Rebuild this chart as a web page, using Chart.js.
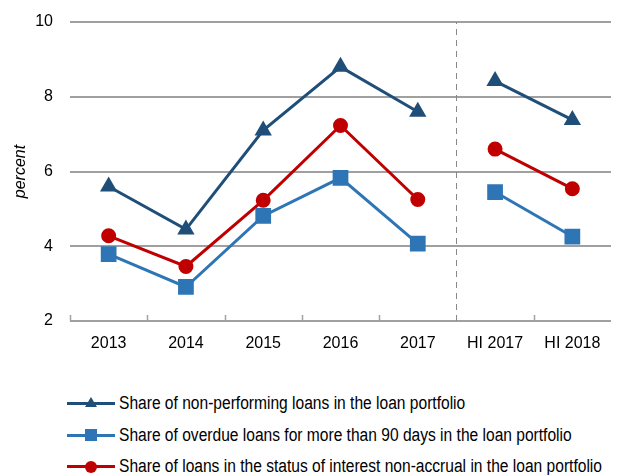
<!DOCTYPE html>
<html>
<head>
<meta charset="utf-8">
<script src="https://cdn.jsdelivr.net/npm/chart.js@4.4.0/dist/chart.umd.min.js"></script>
<style>
  body { margin: 0; background: #fff; width: 623px; height: 475px; overflow: hidden; position: relative; }
  #chart-box { position: absolute; left: 0; top: 0; width: 623px; height: 360px; }
  #legend { position: absolute; left: 67px; top: 388px; font-family: "Liberation Sans Narrow", "Arial Narrow", "Liberation Sans", sans-serif; font-size: 18px; color: #000; }
  .row { position: relative; height: 31.5px; line-height: 31.5px; white-space: nowrap; }
  .sample { position: absolute; left: 0; top: 14px; width: 48px; height: 3px; }
  .mark { position: absolute; }
  .txt { position: absolute; left: 52px; top: 0; transform: scaleX(0.865); transform-origin: 0 50%; }
</style>
</head>
<body>
<div id="chart-box"><canvas id="loansChart" width="623" height="360"></canvas></div>
<div id="legend"></div>
<script>
// categories and series values (percent)
const categories = ["2013", "2014", "2015", "2016", "2017", "HI 2017", "HI 2018"];
const nonPerforming = [5.6, 4.45, 7.1, 8.8, 7.6, 8.42, 7.38];
const overdue90 = [3.79, 2.91, 4.81, 5.83, 4.07, 5.45, 4.26];
const nonAccrual = [4.28, 3.46, 5.23, 7.23, 5.25, 6.6, 5.54];
const yTicks = [2, 4, 6, 8, 10];

const seriesNames = [
    "Share of non-performing loans in the loan portfolio",
    "Share of overdue loans for more than 90 days in the loan portfolio",
    "Share of loans in the status of interest non-accrual in the loan portfolio"
];
const colors = ["#1F4E79", "#2E75B6", "#C00000"];
const fontFamily = '"Liberation Sans Narrow", "Arial Narrow", "Liberation Sans", sans-serif';

// break the line between the annual and half-year parts
const breakAt = 4;
function segColor(color) {
    return ctx => ctx.p0DataIndex === breakAt ? "rgba(0,0,0,0)" : color;
}

// ticks on x axis pointing up, and dashed separator
const axisMarks = {
    id: "axisMarks",
    beforeDatasetsDraw(chart) {
        const x = chart.scales.x;
        const y = chart.scales.y;
        const step = x.getPixelForValue(1) - x.getPixelForValue(0);
        const ctx = chart.ctx;
        ctx.save();
        for (let i = 0; i < categories.length; i++) {
            const px = Math.round(x.getPixelForValue(i) - step / 2) + 0.5;
            ctx.beginPath();
            if (i === breakAt + 1) {
                ctx.lineWidth = 1;
                ctx.strokeStyle = "#888";
                ctx.setLineDash([6, 5]);
                ctx.moveTo(px, y.getPixelForValue(2));
                ctx.lineTo(px, y.getPixelForValue(10));
            } else {
                ctx.lineWidth = 1.5;
                ctx.strokeStyle = "#A0A0A0";
                ctx.setLineDash([]);
                ctx.moveTo(px, y.getPixelForValue(2));
                ctx.lineTo(px, y.getPixelForValue(2) - 6);
            }
            ctx.stroke();
        }
        ctx.restore();
    }
};

const ctx = document.getElementById("loansChart").getContext("2d");
const loansChart = new Chart(ctx, {
    type: "line",
    data: {
        labels: categories,
        datasets: [
            {
                label: seriesNames[0],
                data: nonPerforming,
                borderColor: colors[0],
                backgroundColor: colors[0],
                borderWidth: 3,
                pointStyle: "triangle",
                pointRadius: 7,
                segment: { borderColor: segColor(colors[0]) }
            },
            {
                label: seriesNames[1],
                data: overdue90,
                borderColor: colors[1],
                backgroundColor: colors[1],
                borderWidth: 3,
                pointStyle: "rect",
                pointRadius: 9,
                segment: { borderColor: segColor(colors[1]) }
            },
            {
                label: seriesNames[2],
                data: nonAccrual,
                borderColor: colors[2],
                backgroundColor: colors[2],
                borderWidth: 3,
                pointStyle: "circle",
                pointRadius: 6,
                segment: { borderColor: segColor(colors[2]) }
            }
        ]
    },
    options: {
        responsive: false,
        animation: false,
        devicePixelRatio: 1,
        layout: { padding: { top: 22, right: 0, bottom: 0, left: 0 } },
        plugins: {
            legend: { display: false },
            tooltip: { enabled: false }
        },
        elements: { line: { tension: 0 }, point: { borderWidth: 0 } },
        scales: {
            x: {
                offset: true,
                grid: { display: false },
                border: { display: false },
                ticks: {
                    color: "#000",
                    font: { family: fontFamily, size: 16 },
                    padding: 5,
                    maxRotation: 0
                },
                afterFit: function (scale) { scale.height = 39; }
            },
            y: {
                min: 2,
                max: 10,
                afterBuildTicks: function (scale) {
                    scale.ticks = yTicks.map(v => ({ value: v }));
                },
                grid: { color: "#A0A0A0", lineWidth: 2, drawTicks: false },
                border: { display: false },
                ticks: {
                    color: "#000",
                    font: { family: fontFamily, size: 16 },
                    padding: 17
                },
                title: {
                    display: true,
                    text: "percent",
                    color: "#000",
                    font: { family: fontFamily, size: 16, style: "italic" },
                    padding: { top: 11, bottom: 0 }
                },
                afterFit: function (scale) {
                    scale.width = 70;
                    // keep tick padding from pushing the plot area down
                    scale.paddingTop = 9;
                    scale.paddingBottom = 9;
                }
            }
        }
    },
    plugins: [axisMarks]
});

// legend below the chart
const legend = document.getElementById("legend");
const markers = [
    '<div class="mark" style="left:18px;top:9px;width:0;height:0;border-left:6px solid transparent;border-right:6px solid transparent;border-bottom:10px solid ' + colors[0] + ';"></div>',
    '<div class="mark" style="left:18px;top:9px;width:12px;height:12px;background:' + colors[1] + ';"></div>',
    '<div class="mark" style="left:18px;top:9.5px;width:12px;height:12px;border-radius:50%;background:' + colors[2] + ';"></div>'
];
seriesNames.forEach((name, i) => {
    const row = document.createElement("div");
    row.className = "row";
    row.innerHTML = '<div class="sample" style="background:' + colors[i] + ';"></div>' + markers[i] +
        '<span class="txt">' + name + '</span>';
    legend.appendChild(row);
});
</script>
</body>
</html>
